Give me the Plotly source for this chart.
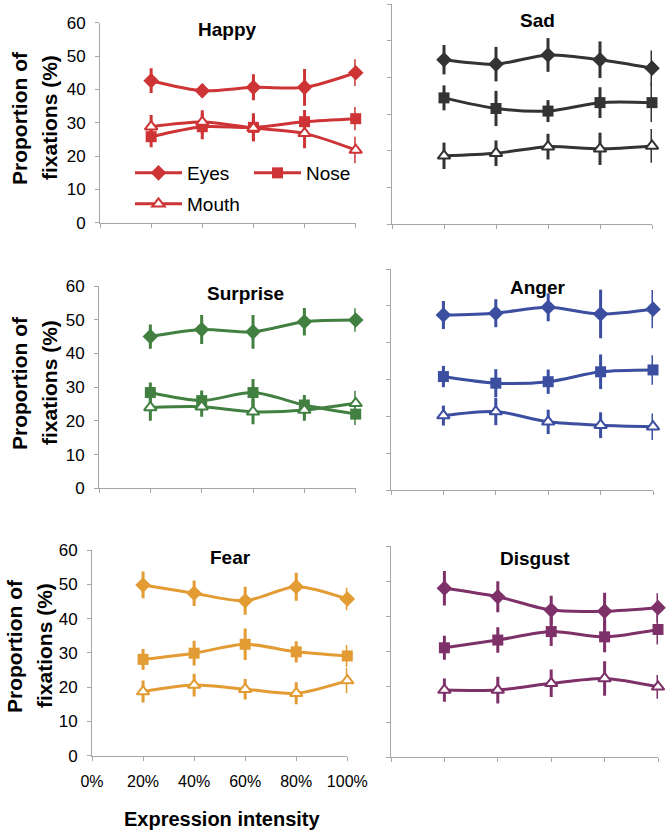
import plotly.graph_objects as go

# ---------------- data ----------------
intensity = [20, 40, 60, 80, 100]
x_tick_vals = [0, 20, 40, 60, 80, 100]
x_tick_text = ["0%", "20%", "40%", "60%", "80%", "100%"]
y_tick_vals = [0, 10, 20, 30, 40, 50, 60]

regions = ["Eyes", "Nose", "Mouth"]
emotions = ["Happy", "Sad", "Surprise", "Anger", "Fear", "Disgust"]

happy_eyes = [42.6, 39.6, 40.6, 40.6, 45.0]
happy_eyes_err = [3.7, 2.0, 3.9, 5.5, 4.0]
happy_nose = [25.8, 28.8, 28.6, 30.3, 31.2]
happy_nose_err = [3.2, 3.8, 4.2, 3.5, 3.5]
happy_mouth = [28.8, 30.2, 28.4, 26.8, 21.8]
happy_mouth_err = [3.5, 3.5, 4.0, 4.5, 4.0]

sad_eyes = [44.8, 43.6, 46.1, 44.8, 42.5]
sad_eyes_err = [4.0, 4.7, 4.6, 5.0, 4.8]
sad_nose = [34.4, 31.5, 30.8, 33.1, 33.1]
sad_nose_err = [3.4, 4.8, 3.0, 4.2, 5.3]
sad_mouth = [18.6, 19.3, 21.1, 20.5, 21.3]
sad_mouth_err = [3.6, 3.5, 3.5, 4.4, 4.6]

surprise_eyes = [45.0, 47.1, 46.4, 49.4, 49.9]
surprise_eyes_err = [3.6, 4.3, 5.0, 4.1, 3.5]
surprise_nose = [28.4, 26.0, 28.4, 24.7, 22.0]
surprise_nose_err = [3.0, 3.0, 4.0, 3.0, 3.2]
surprise_mouth = [24.0, 24.2, 22.7, 23.2, 25.2]
surprise_mouth_err = [4.0, 3.0, 3.7, 3.2, 3.7]

anger_eyes = [47.5, 48.0, 49.6, 47.8, 49.1]
anger_eyes_err = [3.8, 3.8, 3.8, 6.6, 5.2]
anger_nose = [30.8, 29.0, 29.4, 32.1, 32.6]
anger_nose_err = [2.9, 3.8, 3.3, 4.7, 4.0]
anger_mouth = [20.2, 21.3, 18.5, 17.6, 17.2]
anger_mouth_err = [2.7, 3.7, 3.3, 3.5, 3.6]

fear_eyes = [49.8, 47.4, 45.2, 49.3, 45.7]
fear_eyes_err = [3.9, 3.7, 4.1, 4.1, 3.3]
fear_nose = [28.1, 29.9, 32.5, 30.3, 29.1]
fear_nose_err = [3.0, 3.6, 4.6, 3.1, 3.2]
fear_mouth = [18.7, 20.6, 19.4, 18.2, 21.9]
fear_mouth_err = [3.2, 3.3, 3.0, 3.2, 3.7]

disgust_eyes = [48.0, 45.6, 41.8, 41.5, 42.5]
disgust_eyes_err = [4.9, 4.4, 4.1, 5.2, 4.1]
disgust_nose = [31.1, 33.3, 35.7, 34.2, 36.3]
disgust_nose_err = [3.4, 3.6, 4.1, 4.4, 4.3]
disgust_mouth = [19.1, 19.1, 21.0, 22.4, 20.0]
disgust_mouth_err = [3.3, 3.8, 3.9, 4.9, 3.4]

colors = ["#CE3436", "#333333", "#428042", "#3B4EA0", "#E39B34", "#7E3169"]

panel_data = [
    [(happy_eyes, happy_eyes_err), (happy_nose, happy_nose_err), (happy_mouth, happy_mouth_err)],
    [(sad_eyes, sad_eyes_err), (sad_nose, sad_nose_err), (sad_mouth, sad_mouth_err)],
    [(surprise_eyes, surprise_eyes_err), (surprise_nose, surprise_nose_err), (surprise_mouth, surprise_mouth_err)],
    [(anger_eyes, anger_eyes_err), (anger_nose, anger_nose_err), (anger_mouth, anger_mouth_err)],
    [(fear_eyes, fear_eyes_err), (fear_nose, fear_nose_err), (fear_mouth, fear_mouth_err)],
    [(disgust_eyes, disgust_eyes_err), (disgust_nose, disgust_nose_err), (disgust_mouth, disgust_mouth_err)],
]

# ---------------- layout geometry (pixels) ----------------
W, H = 672, 834
# (x0, x1, ytop, ybottom) of each plot area in pixels
panel_px = [
    (100, 355.7, 22.7, 222.7),
    (392, 652, 4, 224),
    (99, 355.7, 286, 488.3),
    (391, 653, 269, 490),
    (92, 347.3, 550, 755.7),
    (391, 658, 546, 757.3),
]
title_px = [(227, 29), (537, 21), (246, 293), (538, 287), (230, 557), (535, 558)]

FONT = "Liberation Sans, Arial, sans-serif"
AXIS_GRAY = "#A6A6A6"

def px_x(p):
    return p / W

def px_y(p):
    return 1 - p / H

fig = go.Figure()

marker_styles = [
    dict(symbol="diamond", size=12),
    dict(symbol="square", size=11),
    dict(symbol="triangle-up", size=11),
]

for i, (emo, series) in enumerate(zip(emotions, panel_data)):
    c = colors[i]
    xa = "x" if i == 0 else f"x{i+1}"
    ya = "y" if i == 0 else f"y{i+1}"
    for j, (vals, errs) in enumerate(series):
        ms = marker_styles[j]
        if j == 2:
            marker = dict(symbol=ms["symbol"], size=ms["size"], color="white",
                          line=dict(color=c, width=2))
        else:
            marker = dict(symbol=ms["symbol"], size=ms["size"], color=c,
                          line=dict(color=c, width=0))
        fig.add_trace(go.Scatter(
            x=intensity, y=vals, mode="lines+markers",
            name=regions[j],
            line=dict(color=c, width=3, shape="spline", smoothing=0.8),
            marker=marker,
            error_y=dict(type="data", array=errs, visible=True, thickness=3, width=0, color=c),
            xaxis=xa, yaxis=ya,
            showlegend=(i == 0),
            legend=("legend2" if j == 2 else "legend"),
            cliponaxis=False,
        ))

layout = dict(
    width=W, height=H,
    margin=dict(l=0, r=0, t=0, b=0, autoexpand=False),
    paper_bgcolor="white", plot_bgcolor="white",
    font=dict(family=FONT, color="black"),
    showlegend=True,
    legend=dict(x=px_x(130), y=px_y(173), xanchor="left", yanchor="middle",
                orientation="h", font=dict(size=19, family=FONT, color="black"),
                bgcolor="rgba(0,0,0,0)", entrywidth=57, entrywidthmode="pixels",
                itemwidth=47, tracegroupgap=0),
    legend2=dict(x=px_x(130), y=px_y(204), xanchor="left", yanchor="middle",
                 orientation="h", font=dict(size=19, family=FONT, color="black"),
                 bgcolor="rgba(0,0,0,0)", itemwidth=47),
)

annotations = []
for i in range(6):
    x0, x1, yt, yb = panel_px[i]
    xk = "xaxis" if i == 0 else f"xaxis{i+1}"
    yk = "yaxis" if i == 0 else f"yaxis{i+1}"
    left = (i % 2 == 0)
    bottom_left = (i == 4)
    layout[xk] = dict(
        domain=[px_x(x0), px_x(x1)], range=[0, 100],
        anchor=("y" if i == 0 else f"y{i+1}"),
        tickvals=x_tick_vals, ticktext=x_tick_text,
        showticklabels=bottom_left, ticks="outside", ticklen=4, tickcolor=AXIS_GRAY,
        showline=True, linecolor=AXIS_GRAY, linewidth=1,
        showgrid=False, zeroline=False, fixedrange=True,
        tickfont=dict(size=16, family=FONT, color="black"),
        ticklabelstandoff=7,
    )
    layout[yk] = dict(
        domain=[px_y(yb), px_y(yt)], range=[0, 60],
        anchor=("x" if i == 0 else f"x{i+1}"),
        tickvals=y_tick_vals,
        showticklabels=left, ticks="outside", ticklen=4, tickcolor=AXIS_GRAY,
        showline=True, linecolor=AXIS_GRAY, linewidth=1,
        showgrid=False, zeroline=False, fixedrange=True,
        tickfont=dict(size=17, family=FONT, color="black"),
        ticklabelstandoff=6,
    )
    tx, ty = title_px[i]
    annotations.append(dict(
        text=f"<b>{emotions[i]}</b>", x=px_x(tx), y=px_y(ty), xref="paper", yref="paper",
        xanchor="center", yanchor="middle", showarrow=False,
        font=dict(size=19, family=FONT, color="black"),
    ))

# y-axis titles for left column
ytitle_px = [(19, 49, 118), (19, 49, 383), (14, 44, 646)]
for (xa1, xa2, yc) in ytitle_px:
    for xx, txt in ((xa1, "Proportion of"), (xa2, "fixations (%)")):
        annotations.append(dict(
            text=f"<b>{txt}</b>", x=px_x(xx), y=px_y(yc), xref="paper", yref="paper",
            xanchor="center", yanchor="middle", showarrow=False, textangle=-90,
            font=dict(size=21, family=FONT, color="black"),
        ))

annotations.append(dict(
    text="<b>Expression intensity</b>", x=px_x(222), y=px_y(819), xref="paper", yref="paper",
    xanchor="center", yanchor="middle", showarrow=False,
    font=dict(size=20, family=FONT, color="black"),
))

layout["annotations"] = annotations
fig.update_layout(**layout)

fig.write_html("out.html", config={"displayModeBar": False},
               post_script="document.body.style.margin='0';")
